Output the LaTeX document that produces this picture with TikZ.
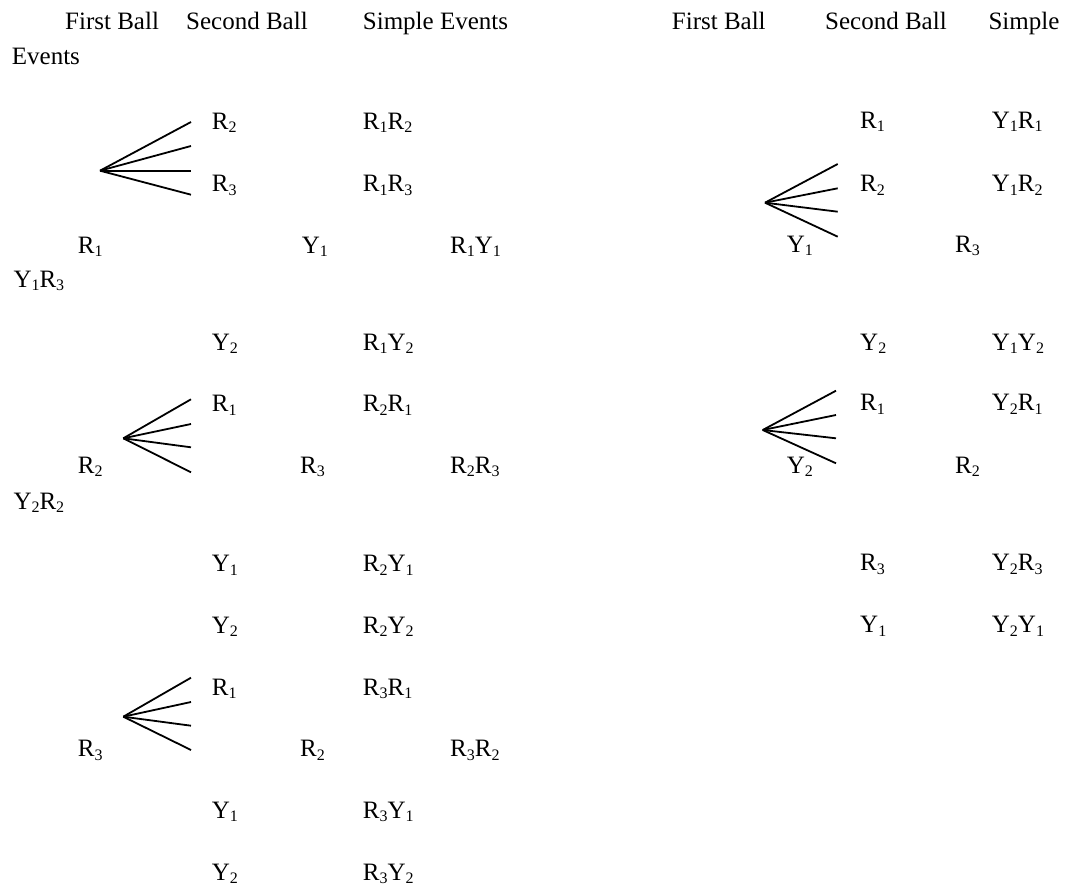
\documentclass[tikz,border=0pt]{standalone}
\usepackage{fontspec}
\setmainfont{Liberation Serif}
\newcommand\sbs[1]{\raisebox{-3.5pt}{\fontsize{16}{16}\selectfont #1}}
\begin{document}
\begin{tikzpicture}[x=1pt,y=-1pt,
  lbl/.style={anchor=base west,inner sep=0pt,font=\fontsize{25}{30}\selectfont},
  branch/.style={line width=1.8pt}]
\useasboundingbox (0,0) rectangle (1069,886);
% headers
\node[lbl] (h1) at (65,29) {First Ball};
\node[lbl] (h2) at (186,29) {Second Ball};
\node[lbl] (h3) at (362.7,29) {Simple Events};
\node[lbl] (h4) at (11.7,64) {Events};
\node[lbl] (h5) at (671.7,29) {First Ball};
\node[lbl] (h6) at (825,29) {Second Ball};
\node[lbl] (h7) at (988.3,29) {Simple};
% left tree 1
\node[lbl] (a1) at (211.7,129.3) {R\sbs{2}};
\node[lbl] (a2) at (362.7,129.3) {R\sbs{1}R\sbs{2}};
\node[lbl] (a3) at (211.7,191.7) {R\sbs{3}};
\node[lbl] (a4) at (362.7,191.7) {R\sbs{1}R\sbs{3}};
\node[lbl] (a5) at (77.7,253.3) {R\sbs{1}};
\node[lbl] (a6) at (301.7,253.3) {Y\sbs{1}};
\node[lbl] (a7) at (450,253.3) {R\sbs{1}Y\sbs{1}};
\node[lbl] (a8) at (13.3,287.3) {Y\sbs{1}R\sbs{3}};
\node[lbl] (a9) at (211.7,350) {Y\sbs{2}};
\node[lbl] (a10) at (362.7,350) {R\sbs{1}Y\sbs{2}};
% left tree 2
\node[lbl] (b1) at (211.7,411.7) {R\sbs{1}};
\node[lbl] (b2) at (362.7,411.7) {R\sbs{2}R\sbs{1}};
\node[lbl] (b3) at (77.7,473.3) {R\sbs{2}};
\node[lbl] (b4) at (300,473.3) {R\sbs{3}};
\node[lbl] (b5) at (450,473.3) {R\sbs{2}R\sbs{3}};
\node[lbl] (b6) at (13.3,509.3) {Y\sbs{2}R\sbs{2}};
\node[lbl] (b7) at (211.7,571.7) {Y\sbs{1}};
\node[lbl] (b8) at (362.7,571.7) {R\sbs{2}Y\sbs{1}};
\node[lbl] (b9) at (211.7,633.3) {Y\sbs{2}};
\node[lbl] (b10) at (362.7,633.3) {R\sbs{2}Y\sbs{2}};
% left tree 3
\node[lbl] (c1) at (211.7,695) {R\sbs{1}};
\node[lbl] (c2) at (362.7,695) {R\sbs{3}R\sbs{1}};
\node[lbl] (c3) at (77.7,756.7) {R\sbs{3}};
\node[lbl] (c4) at (300,756.7) {R\sbs{2}};
\node[lbl] (c5) at (450,756.7) {R\sbs{3}R\sbs{2}};
\node[lbl] (c6) at (211.7,818.3) {Y\sbs{1}};
\node[lbl] (c7) at (362.7,818.3) {R\sbs{3}Y\sbs{1}};
\node[lbl] (c8) at (211.7,880) {Y\sbs{2}};
\node[lbl] (c9) at (362.7,880) {R\sbs{3}Y\sbs{2}};
% right tree 1
\node[lbl] (d1) at (860,128.3) {R\sbs{1}};
\node[lbl] (d2) at (991.7,128.3) {Y\sbs{1}R\sbs{1}};
\node[lbl] (d3) at (860,191.7) {R\sbs{2}};
\node[lbl] (d4) at (991.7,191.7) {Y\sbs{1}R\sbs{2}};
\node[lbl] (d5) at (786.7,252) {Y\sbs{1}};
\node[lbl] (d6) at (955,252) {R\sbs{3}};
\node[lbl] (d7) at (860,350) {Y\sbs{2}};
\node[lbl] (d8) at (991.7,350) {Y\sbs{1}Y\sbs{2}};
% right tree 2
\node[lbl] (e1) at (860,410.5) {R\sbs{1}};
\node[lbl] (e2) at (991.7,410.5) {Y\sbs{2}R\sbs{1}};
\node[lbl] (e3) at (786.7,473.3) {Y\sbs{2}};
\node[lbl] (e4) at (955,473.3) {R\sbs{2}};
\node[lbl] (e5) at (860,570.7) {R\sbs{3}};
\node[lbl] (e6) at (991.7,570.7) {Y\sbs{2}R\sbs{3}};
\node[lbl] (e7) at (860,632.7) {Y\sbs{1}};
\node[lbl] (e8) at (991.7,632.7) {Y\sbs{2}Y\sbs{1}};
% branch coordinates
\coordinate (pa) at (100,170.7);
\coordinate (pa1) at (191,122);
\coordinate (pa2) at (191,146);
\coordinate (pa3) at (191,170.7);
\coordinate (pa4) at (191,194.7);
\coordinate (pb) at (123.3,438.3);
\coordinate (pb1) at (191,399.3);
\coordinate (pb2) at (191,424);
\coordinate (pb3) at (191,447.3);
\coordinate (pb4) at (191,472.3);
\coordinate (pc) at (123.3,716.7);
\coordinate (pc1) at (191,677.7);
\coordinate (pc2) at (191,702);
\coordinate (pc3) at (191,725.7);
\coordinate (pc4) at (191,750);
\coordinate (pd) at (765,202.7);
\coordinate (pd1) at (837.7,164);
\coordinate (pd2) at (837.7,188.3);
\coordinate (pd3) at (837.7,211.7);
\coordinate (pd4) at (837.7,236.7);
\coordinate (pe) at (762.7,430);
\coordinate (pe1) at (836,390.7);
\coordinate (pe2) at (836,415);
\coordinate (pe3) at (836,438.3);
\coordinate (pe4) at (836,463.3);
\foreach \t in {pa,pb,pc,pd,pe}{
  \foreach \k in {1,2,3,4}{
    \draw[branch] (\t) -- (\t\k);
  }
}
\end{tikzpicture}
\end{document}
